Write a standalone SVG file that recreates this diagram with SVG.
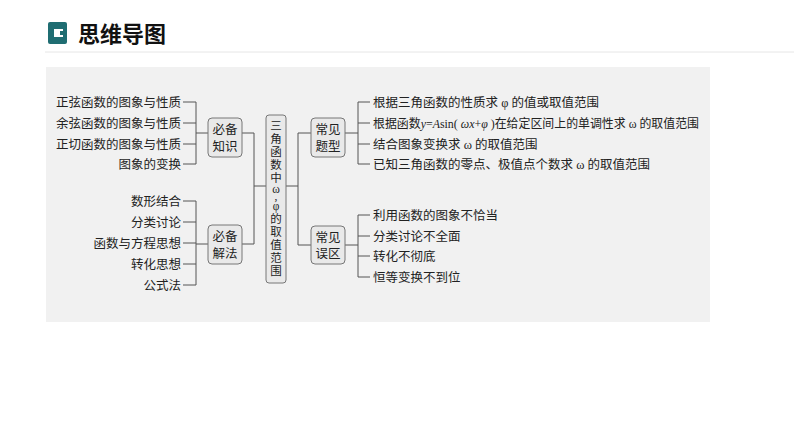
<svg xmlns="http://www.w3.org/2000/svg" width="794" height="447" viewBox="0 0 794 447">
<style>
.t{font-family:"Liberation Serif","Noto Sans CJK SC",serif;font-size:12.5px;fill:#222}
.r{text-anchor:end}
.c{text-anchor:middle}
.s{font-size:11.5px}
.ln{fill:none;stroke:#555;stroke-width:1}
.box{fill:#e9e9e9;stroke:#777;stroke-width:1}
</style>
<rect width="794" height="447" fill="#fff"/>
<rect x="48" y="22" width="19" height="22" rx="2" fill="#1f6d72"/>
<rect x="54" y="29" width="9" height="8" fill="#fff"/>
<rect x="60" y="31" width="7" height="4" fill="#1f6d72"/>
<text x="78" y="42" style="font-family:'Noto Sans CJK SC',sans-serif;font-size:22px;font-weight:bold;fill:#111">思维导图</text>
<line x1="45" y1="52" x2="794" y2="52" stroke="#e6e6e6"/>
<rect x="46" y="67" width="664" height="255" fill="#f1f1f1"/>
<g id="connectors">
<path class="ln" d="M183 102H196V164H183M183 123H196M183 144H196M196 133H208"/>
<path class="ln" d="M183 201H196V285H183M183 222H196M183 243H196M183 264H196M196 244H208"/>
<path class="ln" d="M242 133H254V244H242M254 186H266"/>
<path class="ln" d="M286 186H298M311 133H298V245H311"/>
<path class="ln" d="M345 133H358M370 102H358V164H370M358 123H370M358 144H370"/>
<path class="ln" d="M345 245H358M370 215H358V277H370M358 236H370M358 256H370"/>
</g>
<g id="left1">
<text class="t r" x="181" y="107">正弦函数的图象与性质</text>
<text class="t r" x="181" y="128">余弦函数的图象与性质</text>
<text class="t r" x="181" y="149">正切函数的图象与性质</text>
<text class="t r" x="181" y="169">图象的变换</text>
</g>
<g id="left2">
<text class="t r" x="181" y="206">数形结合</text>
<text class="t r" x="181" y="227">分类讨论</text>
<text class="t r" x="181" y="248">函数与方程思想</text>
<text class="t r" x="181" y="269">转化思想</text>
<text class="t r" x="181" y="290">公式法</text>
</g>
<g id="zhishi"><rect class="box" x="208" y="118" width="34" height="39" rx="4"/>
<text class="t c" x="225" y="134">必备</text><text class="t c" x="225" y="151">知识</text></g>
<g id="jiefa"><rect class="box" x="208" y="225" width="34" height="39" rx="4"/>
<text class="t c" x="225" y="241">必备</text><text class="t c" x="225" y="258">解法</text></g>
<g id="center"><rect class="box" x="266" y="115" width="20" height="168" rx="3"/>
<text class="t c s" x="276"><tspan x="276" y="130">三</tspan><tspan x="276" y="143">角</tspan><tspan x="276" y="156">函</tspan><tspan x="276" y="169">数</tspan><tspan x="276" y="182">中</tspan><tspan x="276" y="193">ω</tspan><tspan x="276" y="200">,</tspan><tspan x="276" y="210">φ</tspan><tspan x="276" y="223">的</tspan><tspan x="276" y="236">取</tspan><tspan x="276" y="249">值</tspan><tspan x="276" y="262">范</tspan><tspan x="276" y="275">围</tspan></text></g>
<g id="tixing"><rect class="box" x="311" y="118" width="34" height="39" rx="4"/>
<text class="t c" x="328" y="134">常见</text><text class="t c" x="328" y="151">题型</text></g>
<g id="wuqu"><rect class="box" x="311" y="226" width="34" height="38" rx="4"/>
<text class="t c" x="328" y="242">常见</text><text class="t c" x="328" y="258">误区</text></g>
<g id="right1">
<text class="t" x="373" y="107">根据三角函数的性质求 φ 的值或取值范围</text>
<text class="t" x="373" y="128" textLength="326" lengthAdjust="spacingAndGlyphs">根据函数<tspan font-style="italic">y</tspan>=<tspan font-style="italic">A</tspan>sin( <tspan font-style="italic">ωx</tspan>+<tspan font-style="italic">φ</tspan> )在给定区间上的单调性求 ω 的取值范围</text>
<text class="t" x="373" y="149">结合图象变换求 ω 的取值范围</text>
<text class="t" x="373" y="169">已知三角函数的零点、极值点个数求 ω 的取值范围</text>
</g>
<g id="right2">
<text class="t" x="373" y="220">利用函数的图象不恰当</text>
<text class="t" x="373" y="241">分类讨论不全面</text>
<text class="t" x="373" y="261">转化不彻底</text>
<text class="t" x="373" y="282">恒等变换不到位</text>
</g>
</svg>
